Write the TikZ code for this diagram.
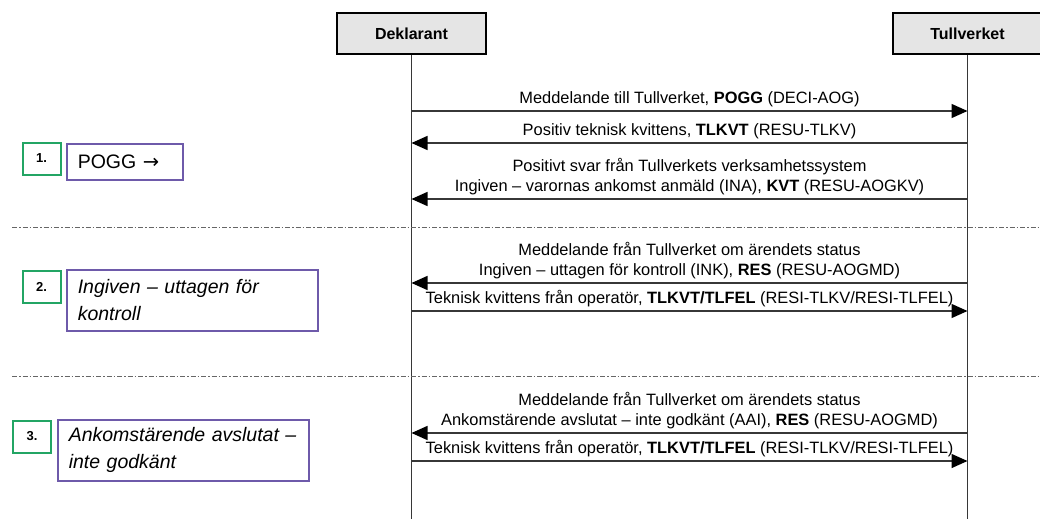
\documentclass[tikz,border=0pt]{standalone}
\usepackage{fontspec}
\setmainfont{Liberation Sans}
\newfontfamily\symfont{DejaVu Sans}
\usetikzlibrary{arrows.meta}

\definecolor{stepgreen}{RGB}{35,165,100}
\definecolor{notepurple}{RGB}{110,90,170}
\definecolor{linegray}{RGB}{55,55,55}

\begin{document}
\begin{tikzpicture}[x=1pt,y=-1pt]
\tikzset{actor/.style = {draw=black,line width=2.4pt,fill=gray!20,minimum width=149pt,minimum height=41pt,font=\fontsize{16}{19}\selectfont\bfseries}}
\tikzset{life/.style = {draw=linegray,line width=1.4pt}}
\tikzset{msg/.style = {-{Triangle[length=16pt,width=14pt,fill=black,color=black]},draw=linegray,line width=1.4pt}}
\tikzset{lbl/.style = {above,inner sep=3pt,align=center,font=\fontsize{16.4}{20}\selectfont}}
\tikzset{sep/.style = {draw=gray!80!black,line width=1pt,dash pattern=on 5pt off 2pt on 1.5pt off 2pt}}
\tikzset{stepno/.style = {draw=stepgreen,line width=2pt,minimum width=38pt,minimum height=32pt,font=\fontsize{13}{16}\selectfont\bfseries}}
\tikzset{note/.style = {draw=notepurple,line width=1.5pt,anchor=north west,align=left,inner xsep=11pt,font=\fontsize{19.5}{27}\selectfont}}
\useasboundingbox (0,0) rectangle (1040,519);

\node[actor] (dek) at (411.5,33.5) {Deklarant};
\node[actor] (tull) at (967.5,33.5) {Tullverket};
\coordinate (bot) at (0,519);
\draw[life] (dek.south) -- (dek.south |- bot);
\draw[life] (tull.south) -- (tull.south |- bot);

% steg 1
\coordinate (m1) at (0,111);
\coordinate (m2) at (0,143);
\coordinate (m3) at (0,199);
\draw[msg] (dek |- m1) -- node[lbl] {Meddelande till Tullverket, \textbf{POGG} (DECI-AOG)} (tull |- m1);
\draw[msg] (tull |- m2) -- node[lbl] {Positiv teknisk kvittens, \textbf{TLKVT} (RESU-TLKV)} (dek |- m2);
\draw[msg] (tull |- m3) -- node[lbl] {Positivt svar från Tullverkets verksamhetssystem\\Ingiven -- varornas ankomst anmäld (INA), \textbf{KVT} (RESU-AOGKV)} (dek |- m3);
\node[stepno] (n1) at (41.5,158.5) {1.};
\node[note,text width=94pt,minimum height=36pt] (p1) at (66,143) {POGG {\symfont →}};
\draw[sep] (12,227) -- (1040,227);

% steg 2
\coordinate (m4) at (0,283);
\coordinate (m5) at (0,311);
\draw[msg] (tull |- m4) -- node[lbl] {Meddelande från Tullverket om ärendets status\\Ingiven -- uttagen för kontroll (INK), \textbf{RES} (RESU-AOGMD)} (dek |- m4);
\draw[msg] (dek |- m5) -- node[lbl] {Teknisk kvittens från operatör, \textbf{TLKVT/TLFEL} (RESI-TLKV/RESI-TLFEL)} (tull |- m5);
\node[stepno] (n2) at (41.5,286.5) {2.};
\node[note,text width=229pt,minimum height=61pt] (p2) at (66,269) {\itshape Ingiven -- uttagen för\\\itshape kontroll};
\draw[sep] (12,376) -- (1040,376);

% steg 3
\coordinate (m6) at (0,433);
\coordinate (m7) at (0,461);
\draw[msg] (tull |- m6) -- node[lbl] {Meddelande från Tullverket om ärendets status\\Ankomstärende avslutat -- inte godkänt (AAI), \textbf{RES} (RESU-AOGMD)} (dek |- m6);
\draw[msg] (dek |- m7) -- node[lbl] {Teknisk kvittens från operatör, \textbf{TLKVT/TLFEL} (RESI-TLKV/RESI-TLFEL)} (tull |- m7);
\node[stepno] (n3) at (32,436.5) {3.};
\node[note,text width=229pt,minimum height=61pt] (p3) at (57,419) {\itshape Ankomstärende avslutat --\\\itshape inte godkänt};
\end{tikzpicture}
\end{document}
